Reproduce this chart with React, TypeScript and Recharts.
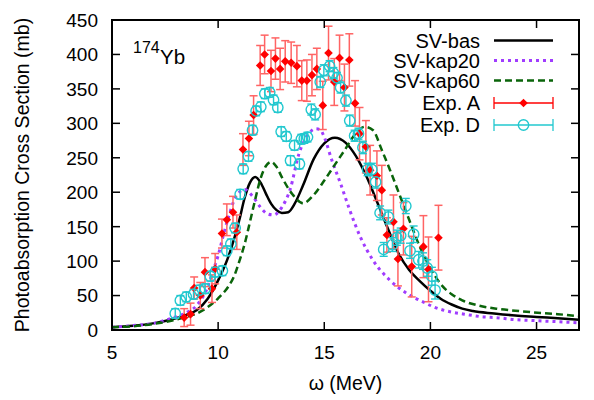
import React from "react";
import { ComposedChart, Line, Scatter, XAxis, YAxis, ErrorBar } from "recharts";

const X_TICKS = [5, 10, 15, 20, 25];
const Y_TICKS = [0, 50, 100, 150, 200, 250, 300, 350, 400, 450];

// theory curves, [omega, sigma]
const svBas = [
  [5, 4], [6, 6], [7, 10], [7.5, 13], [8, 17], [8.5, 22], [9, 29], [9.5, 45], [10, 72],
  [10.5, 108], [11, 160], [11.25, 192], [11.5, 214], [11.75, 222], [12, 214], [12.25, 198],
  [12.5, 183], [12.75, 174], [13, 170], [13.3, 171], [13.6, 183], [14, 210], [14.5, 248],
  [15, 271], [15.5, 279], [16, 272], [16.5, 252], [17, 222], [17.5, 185], [18, 147],
  [18.5, 111], [19, 87], [19.5, 71], [20, 57], [20.5, 45], [21, 37], [21.5, 31], [22, 27.5],
  [23, 24], [24, 21], [25, 19], [26, 17], [27, 15],
];

const svKap20 = [
  [5, 4], [6, 6.5], [7, 10], [7.5, 14], [8, 19], [8.5, 25], [9, 36], [9.5, 62], [9.75, 85],
  [10, 108], [10.25, 138], [10.5, 165], [10.75, 188], [11, 200], [11.25, 204], [11.6, 195],
  [12, 178], [12.3, 169], [12.6, 167], [13, 178], [13.4, 205], [13.8, 255], [14.2, 282],
  [14.6, 292], [14.8, 291], [15, 280], [15.35, 247], [15.75, 214], [16.2, 174], [16.7, 135],
  [17.3, 101], [18.1, 72], [18.9, 53], [19.7, 40], [20.2, 33], [21, 26], [21.6, 23],
  [22.5, 19], [23.1, 18], [24, 15], [25, 13.5], [26, 12], [27, 10.5],
];

const svKap60 = [
  [5, 4], [6, 5.5], [7, 9], [8, 15], [8.5, 19], [9, 24], [9.5, 33], [10, 46], [10.5, 64],
  [10.75, 78], [11, 100], [11.25, 125], [11.5, 157], [11.75, 190], [12, 220], [12.25, 238],
  [12.5, 244], [12.75, 237], [13, 222], [13.5, 197], [14, 184], [14.5, 196], [15, 217],
  [15.5, 240], [16, 263], [16.5, 286], [16.9, 295], [17.3, 290], [17.7, 262], [18.1, 232],
  [18.6, 192], [19, 160], [19.5, 121], [20, 90], [20.5, 66], [21, 52], [21.5, 43], [22.2, 36],
  [23.1, 31], [24, 28], [24.7, 26], [26, 23], [27, 20],
];

// experiments, [omega, sigma, error]
const expA = [
  [8.4, 18, 13], [8.7, 23, 16], [8.87, 61, 16], [9.16, 50, 19], [9.38, 84, 21], [9.71, 60, 20],
  [9.86, 89, 22], [10.18, 140, 21], [10.41, 160, 23], [10.7, 171, 23], [10.88, 142, 25],
  [11.17, 262, 23], [11.45, 278, 25], [11.67, 312, 28], [11.98, 384, 29], [12.19, 400, 28],
  [12.49, 376, 30], [12.7, 394, 30], [12.92, 379, 30], [13.16, 390, 30], [13.44, 388, 30],
  [13.71, 383, 30], [13.94, 362, 29], [14.18, 362, 30], [14.42, 370, 30], [14.65, 379, 30],
  [14.93, 326, 35], [15.2, 402, 39], [15.47, 360, 34], [15.72, 395, 33], [15.95, 352, 34],
  [16.18, 392, 38], [16.45, 329, 33], [16.66, 285, 38], [16.96, 266, 38], [17.16, 232, 36],
  [17.48, 224, 36], [17.71, 203, 36], [17.95, 138, 25], [18.26, 157, 39], [18.47, 103, 39],
  [18.73, 147, 38], [19.12, 92, 44], [19.67, 121, 45], [19.91, 88, 47], [20.38, 134, 47],
];

const expD = [
  [7.98, 24, 7], [8.22, 43, 7], [8.5, 48, 7], [8.84, 52, 7], [9.12, 58, 7], [9.39, 60, 7],
  [9.63, 78, 7], [9.86, 84, 7], [10.2, 86, 7], [10.41, 115, 7], [10.6, 125, 7], [10.8, 148, 7],
  [11.04, 197, 7], [11.18, 234, 7], [11.43, 252, 7], [11.62, 290, 7], [11.79, 318, 7],
  [12.01, 324, 7], [12.2, 343, 7], [12.43, 345, 7], [12.61, 334, 7], [12.81, 323, 7],
  [12.97, 288, 7], [13.21, 281, 7], [13.41, 246, 7], [13.6, 268, 7], [13.83, 241, 7],
  [13.92, 277, 7], [14.06, 278, 7], [14.21, 280, 7], [14.39, 320, 8], [14.57, 313, 8],
  [14.81, 360, 8], [14.98, 377, 8], [15.25, 383, 8], [15.43, 373, 8], [15.6, 366, 8],
  [15.77, 352, 8], [16.02, 333, 8], [16.2, 304, 8], [16.43, 282, 8], [16.61, 285, 8],
  [16.82, 265, 9], [17.04, 233, 9], [17.24, 233, 9], [17.42, 215, 9], [17.63, 170, 10],
  [17.8, 117, 10], [18.02, 164, 10], [18.21, 124, 10], [18.42, 134, 11], [18.6, 137, 11],
  [18.84, 180, 11], [19.04, 115, 11], [19.21, 139, 12], [19.45, 102, 12], [19.65, 100, 12],
  [19.85, 90, 12], [20.07, 78, 13], [20.22, 58, 13],
];

const X_MIN = 5;
const X_MAX = 27;
const Y_MAX = 450;

const FONT = "'Liberation Sans', Arial, Helvetica, sans-serif";
const PURPLE = "#a03cff";
const GREEN = "#0a640a";
const RED = "#ff0000";
const RED_BAR = "#ff6464";
const CYAN = "#22c8cf";

// plot box (chart margins + axis sizes below)
const W = 594;
const H = 400;
const M = { top: 20, right: 15, bottom: 0, left: 0 };
const Y_AXIS_W = 112;
const X_AXIS_H = 70;
const PL = M.left + Y_AXIS_W;
const PR = W - M.right;
const PT = M.top;
const PB = H - M.bottom - X_AXIS_H;

const toXY = (pts: number[][]) => pts.map(([x, y]) => ({ x, y }));
const toXYE = (pts: number[][]) => pts.map(([x, y, err]) => ({ x, y, err }));

const BottomTick = ({ x, y, payload }: any) => (
  <g>
    <line x1={x} y1={y} x2={x} y2={y - 8} stroke="#000" strokeWidth={1.5} />
    <text x={x} y={y + 29} textAnchor="middle" fontSize={19} fontFamily={FONT} fill="#000">
      {payload.value}
    </text>
  </g>
);
const LeftTick = ({ x, y, payload }: any) => (
  <g>
    <line x1={x} y1={y} x2={x + 8} y2={y} stroke="#000" strokeWidth={1.5} />
    <text x={x - 14} y={y} dy="0.36em" textAnchor="end" fontSize={19} fontFamily={FONT} fill="#000">
      {payload.value}
    </text>
  </g>
);

const Diamond = ({ cx, cy }: any) => {
  const r = 4.3;
  return <polygon points={`${cx},${cy - r} ${cx + r},${cy} ${cx},${cy + r} ${cx - r},${cy}`} fill={RED} />;
};
const Ring = ({ cx, cy }: any) => <circle cx={cx} cy={cy} r={5.2} fill="none" stroke={CYAN} strokeWidth={1.4} />;

export default function App() {
  const legendRows = [
    { name: "SV-bas", y: 40.5 },
    { name: "SV-kap20", y: 60.5 },
    { name: "SV-kap60", y: 80.5 },
    { name: "Exp. A", y: 103 },
    { name: "Exp. D", y: 125 },
  ];
  const lx1 = 494;
  const lx2 = 553;
  const lmid = (lx1 + lx2) / 2;

  // mirrored top/right ticks of the gnuplot-style box
  const sx = (v: number) => PL + ((v - X_MIN) / (X_MAX - X_MIN)) * (PR - PL);
  const sy = (v: number) => PB - (v / Y_MAX) * (PB - PT);

  return (
    <div style={{ position: "absolute", left: 0, top: 0, width: W, height: H, background: "#fff" }}>
      <ComposedChart width={W} height={H} margin={M}>
        <XAxis
          dataKey="x"
          type="number"
          domain={[X_MIN, X_MAX]}
          ticks={X_TICKS}
          height={X_AXIS_H}
          tickSize={0}
          tickMargin={0}
          tickLine={false}
          tick={BottomTick}
          axisLine={{ stroke: "#000", strokeWidth: 1.8 }}
          label={() => (
            <text x={(PL + PR) / 2} y={390} textAnchor="middle" fontSize={19.5} fontFamily={FONT} fill="#000">
              ω (MeV)
            </text>
          )}
        />
        <YAxis
          type="number"
          domain={[0, Y_MAX]}
          ticks={Y_TICKS}
          width={Y_AXIS_W}
          tickSize={0}
          tickMargin={0}
          tickLine={false}
          tick={LeftTick}
          axisLine={{ stroke: "#000", strokeWidth: 1.8 }}
          label={() => (
            <text
              x={29}
              y={175}
              transform="rotate(-90 29 175)"
              textAnchor="middle"
              fontSize={19.5}
              fontFamily={FONT}
              fill="#000"
            >
              Photoabsorption Cross Section (mb)
            </text>
          )}
        />

        <Line data={toXY(svBas)} dataKey="y" type="monotone" dot={false} stroke="#000" strokeWidth={2.5} isAnimationActive={false} />
        <Line
          data={toXY(svKap20)}
          dataKey="y"
          type="monotone"
          dot={false}
          stroke={PURPLE}
          strokeWidth={3}
          strokeDasharray="3 4"
          isAnimationActive={false}
        />
        <Line
          data={toXY(svKap60)}
          dataKey="y"
          type="monotone"
          dot={false}
          stroke={GREEN}
          strokeWidth={2.5}
          strokeDasharray="7 4"
          isAnimationActive={false}
        />
        <Scatter data={toXYE(expA)} dataKey="y" shape={Diamond} isAnimationActive={false}>
          <ErrorBar dataKey="err" direction="y" width={4} stroke={RED_BAR} strokeWidth={1.5} isAnimationActive={false} />
        </Scatter>
        <Scatter data={toXYE(expD)} dataKey="y" shape={Ring} isAnimationActive={false}>
          <ErrorBar dataKey="err" direction="y" width={4} stroke={CYAN} strokeWidth={1.4} isAnimationActive={false} />
        </Scatter>
      </ComposedChart>

      <svg width={W} height={H} style={{ position: "absolute", left: 0, top: 0, pointerEvents: "none" }}>
        {/* full box frame */}
        <rect
          x={PL}
          y={PT}
          width={PR - PL}
          height={PB - PT}
          fill="none"
          stroke="#000"
          strokeWidth={2}
        />
        {X_TICKS.filter((t) => t > X_MIN).map((t) => (
          <line key={`tt${t}`} x1={sx(t)} y1={PT} x2={sx(t)} y2={PT + 8} stroke="#000" strokeWidth={1.5} />
        ))}
        {Y_TICKS.filter((t) => t > 0 && t < Y_MAX).map((t) => (
          <line key={`rt${t}`} x1={PR} y1={sy(t)} x2={PR - 8} y2={sy(t)} stroke="#000" strokeWidth={1.5} />
        ))}

        <text x={133} y={53} fontSize={16} fontFamily={FONT} fill="#000">174</text>
        <text x={160} y={63.5} fontSize={20.5} fontFamily={FONT} fill="#000">Yb</text>

        {legendRows.map((r) => (
          <text key={r.name} x={480} y={r.y} dy="0.36em" textAnchor="end" fontSize={20} fontFamily={FONT} fill="#000">
            {r.name}
          </text>
        ))}
        <line x1={lx1} y1={40.5} x2={lx2} y2={40.5} stroke="#000" strokeWidth={2.5} />
        <line x1={lx1} y1={60.5} x2={lx2} y2={60.5} stroke={PURPLE} strokeWidth={3} strokeDasharray="3 4" />
        <line x1={lx1} y1={80.5} x2={lx2} y2={80.5} stroke={GREEN} strokeWidth={2.5} strokeDasharray="7 4" />
        <g stroke={RED} strokeWidth={1.3}>
          <line x1={lx1} y1={103} x2={lx2} y2={103} />
          <line x1={lx1} y1={97} x2={lx1} y2={109} />
          <line x1={lx2} y1={97} x2={lx2} y2={109} />
        </g>
        <Diamond cx={lmid} cy={103} />
        <g stroke={CYAN} strokeWidth={1.3}>
          <line x1={lx1} y1={125} x2={lx2} y2={125} />
          <line x1={lx1} y1={119} x2={lx1} y2={131} />
          <line x1={lx2} y1={119} x2={lx2} y2={131} />
        </g>
        <Ring cx={lmid} cy={125} />
      </svg>
    </div>
  );
}
